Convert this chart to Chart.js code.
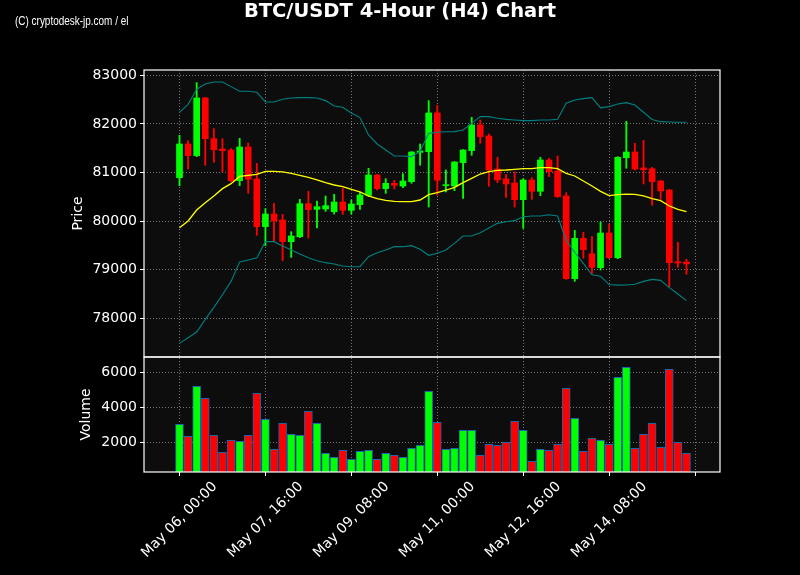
<!DOCTYPE html>
<html><head><meta charset="utf-8">
<script src="https://cdn.jsdelivr.net/npm/chart.js@4/dist/chart.umd.min.js"></script>
<style>html,body{margin:0;padding:0;background:#000;overflow:hidden;}</style>
</head><body>
<canvas id="c" width="800" height="575" style="display:block;width:800px;height:575px"></canvas>
<script>
// ---- data (4-hour candles, index 0 = May 06 00:00) ----
const tickIndex = [0, 10, 20, 30, 40, 50, 60];
const tickLabels = ['May 06, 00:00', 'May 07, 16:00', 'May 09, 08:00', 'May 11, 00:00', 'May 12, 16:00', 'May 14, 08:00', ''];
const priceTicks = [78000, 79000, 80000, 81000, 82000, 83000];
const volumeTicks = [2000, 4000, 6000];

const opens  = [80894,81587,81347,82534,81697,81484,81463,80832,81525,80867,79886,80146,80023,79577,79680,80359,80242,80249,80194,80393,80222,80338,80530,80949,80668,80777,80722,80812,81415,81429,82225,80730,80722,81203,81450,81978,81751,81072,80867,80784,80441,80846,80613,81258,81031,80517,78815,79645,79330,79042,79755,79247,81306,81422,81093,81079,80825,80640,79165,79158];
const highs  = [81765,81655,82849,82547,81902,81697,81491,81703,81607,81189,80256,80366,80139,79782,80448,80613,80414,80517,80551,80675,80434,80585,81086,80960,80873,80839,80976,81430,81587,82479,82383,81052,81225,81470,82136,82081,81793,81312,80956,81011,80873,80894,81312,81292,81340,80585,79810,79772,79680,79982,79940,81326,82053,81601,81662,81107,80840,80650,79563,79213];
const lows   = [80729,81072,81326,81148,81210,81011,80812,80729,80572,79707,79495,79577,79186,79254,79659,79652,79858,80201,80146,80139,80146,80242,80503,80640,80571,80660,80688,80777,81148,80290,80537,80600,80626,80469,81354,81601,80716,80791,80489,80290,79851,80448,80523,80915,80490,78801,78760,79234,78925,78993,79227,79227,81086,81052,80764,80325,80450,78650,79049,78907];
const closes = [81587,81347,82534,81697,81470,81450,80832,81525,80860,79886,80146,80002,79577,79694,80359,80235,80297,80318,80393,80222,80352,80537,80949,80668,80777,80736,80825,81422,81443,82225,80839,80750,81216,81463,81978,81738,81052,80846,80764,80441,80846,80613,81258,81017,80503,78815,79645,79412,79049,79755,79247,81312,81422,81072,81058,80812,80620,79145,79138,79119];
const volumes = [3030,2340,5200,4510,2400,1430,2110,2060,2400,4800,3310,1600,3090,2460,2400,3770,3090,1370,1140,1540,1030,1490,1540,1030,1370,1260,1140,1660,1830,4910,3140,1600,1660,2690,2690,1260,1890,1830,2000,3200,2690,910,1600,1540,1890,5090,3370,1490,2230,2110,1890,5710,6290,1660,2460,3090,1710,6170,2000,1370];
const sma20 = [79865,80002,80229,80380,80517,80668,80770,80920,80942,80963,81024,81024,81011,80983,80942,80901,80846,80791,80743,80709,80654,80600,80517,80462,80428,80407,80400,80400,80434,80544,80585,80635,80695,80791,80880,80969,81017,81045,81052,81065,81079,81079,81100,81100,81079,80983,80928,80825,80722,80613,80524,80544,80555,80551,80517,80462,80421,80311,80242,80194];
const upperBand = [82239,82403,82712,82822,82863,82863,82767,82671,82671,82650,82451,82451,82506,82534,82540,82540,82534,82479,82369,82341,82225,82130,81772,81587,81463,81340,81340,81326,81436,81806,81827,81838,81841,81875,82012,82150,82150,82115,82094,82081,82067,82067,82081,82081,82094,82424,82492,82520,82540,82330,82355,82410,82437,82389,82240,82090,82046,82040,82033,82033];
const lowerBand = [77485,77601,77718,77979,78225,78486,78760,79158,79199,79247,79577,79577,79488,79405,79323,79247,79186,79145,79117,79076,79062,79062,79268,79350,79405,79474,79474,79495,79419,79296,79337,79405,79542,79693,79693,79762,79858,79954,79988,80009,80091,80105,80105,80132,80105,79600,79360,79131,78895,78865,78695,78682,78685,78700,78760,78800,78780,78630,78500,78363];

// ---- styling ----
const GREEN = '#00ff00', RED = '#ff0000';
const idx = opens.map((_, i) => i);
const candleColor = ctx => (closes[ctx.dataIndex] >= opens[ctx.dataIndex] ? GREEN : RED);
const FONT = 'DejaVu Sans';
const gridCommon = {
  color: 'rgba(170,170,170,0.85)', lineWidth: 0.8,
  drawTicks: true, tickLength: 4, tickColor: '#ffffff', tickWidth: 1, tickBorderDash: [], offset: false
};

const decor = {
  id: 'decor',
  beforeDraw(chart) {
    const {ctx, chartArea: a} = chart;
    ctx.save();
    ctx.fillStyle = '#000';
    ctx.fillRect(0, 0, chart.width, chart.height);
    ctx.fillStyle = '#0d0d0d';
    ctx.fillRect(a.left, a.top, a.right - a.left, a.bottom - a.top);
    ctx.restore();
  },
  afterDraw(chart) {
    const {ctx, chartArea: a} = chart;
    const y = chart.scales.y, yv = chart.scales.yv, x = chart.scales.x;
    ctx.save();
    // frames
    ctx.strokeStyle = '#ffffff';
    ctx.lineWidth = 1.2;
    ctx.strokeRect(a.left, y.top, a.right - a.left, y.bottom - y.top);
    ctx.strokeRect(a.left, yv.top, a.right - a.left, yv.bottom - yv.top);
    // title
    ctx.fillStyle = '#ffffff';
    ctx.textAlign = 'center';
    ctx.textBaseline = 'alphabetic';
    ctx.font = 'bold 19.5px "' + FONT + '"';
    ctx.fillText('BTC/USDT 4-Hour (H4) Chart', 400, 17);
    // watermark (condensed)
    ctx.save();
    ctx.textAlign = 'left';
    ctx.font = '12px "Liberation Sans", sans-serif';
    ctx.translate(15, 25);
    ctx.scale(0.83, 1);
    ctx.fillText('(C) cryptodesk-jp.com / el', 0, 0);
    ctx.restore();
    // axis titles
    ctx.font = '14px "' + FONT + '"';
    ctx.textAlign = 'center';
    ctx.textBaseline = 'middle';
    ctx.save();
    ctx.translate(78, (y.top + y.bottom) / 2);
    ctx.rotate(-Math.PI / 2);
    ctx.fillText('Price', 0, 0);
    ctx.restore();
    ctx.save();
    ctx.translate(86, (yv.top + yv.bottom) / 2);
    ctx.rotate(-Math.PI / 2);
    ctx.fillText('Volume', 0, 0);
    ctx.restore();
    // x tick labels, rotated 45 deg, centred on tick
    tickIndex.forEach((v, k) => {
      const lbl = tickLabels[k];
      if (!lbl) return;
      const px = x.getPixelForValue(v);
      ctx.save();
      ctx.translate(px, a.bottom + 48);
      ctx.rotate(-Math.PI / 4);
      ctx.fillText(lbl, 0, 0);
      ctx.restore();
    });
    ctx.restore();
  }
};

new Chart(document.getElementById('c'), {
  type: 'bar',
  data: {
    datasets: [
      {type: 'line', label: 'SMA 20', data: idx.map(i => ({x: i, y: sma20[i]})), borderColor: '#ffff00', borderWidth: 1.3, pointRadius: 0, yAxisID: 'y', order: 0},
      {type: 'line', label: 'Upper Band', data: idx.map(i => ({x: i, y: upperBand[i]})), borderColor: '#008080', borderWidth: 1.1, pointRadius: 0, yAxisID: 'y', order: 0},
      {type: 'line', label: 'Lower Band', data: idx.map(i => ({x: i, y: lowerBand[i]})), borderColor: '#008080', borderWidth: 1.1, pointRadius: 0, yAxisID: 'y', order: 0},
      {label: 'Body', data: idx.map(i => ({x: i, y: [opens[i], closes[i]]})), backgroundColor: candleColor, barThickness: 6, minBarLength: 1, grouped: false, yAxisID: 'y', order: 1},
      {label: 'Wick', data: idx.map(i => ({x: i, y: [lows[i], highs[i]]})), backgroundColor: candleColor, barThickness: 1.2, grouped: false, yAxisID: 'y', order: 2},
      {label: 'Volume', data: idx.map(i => ({x: i, y: volumes[i]})), backgroundColor: candleColor, borderColor: '#1f64a8', borderWidth: 1, borderSkipped: false, barThickness: 8, grouped: false, yAxisID: 'yv', clip: 0, order: 3}
    ]
  },
  options: {
    responsive: false,
    animation: false,
    devicePixelRatio: 1,
    layout: {padding: {top: 70, right: 80, bottom: 0, left: 0}},
    plugins: {legend: {display: false}, tooltip: {enabled: false}, title: {display: false}},
    scales: {
      x: {
        type: 'linear', min: -4.13, max: 62.9, offset: false,
        afterBuildTicks: ax => { ax.ticks = tickIndex.map(v => ({value: v})); },
        afterFit: ax => { ax.height = 103; },
        ticks: {display: false},
        grid: gridCommon,
        border: {display: false, dash: [1, 2]}
      },
      y: {
        type: 'linear', position: 'left', stack: 'panes', stackWeight: 287, weight: 1,
        min: 77204, max: 83109,
        afterBuildTicks: ax => { ax.ticks = priceTicks.map(v => ({value: v})); },
        afterFit: ax => { ax.width = 144; },
        ticks: {color: '#ffffff', font: {family: FONT, size: 14}, padding: 3, callback: v => String(v)},
        grid: gridCommon,
        border: {display: false, dash: [1, 2]}
      },
      yv: {
        type: 'linear', position: 'left', stack: 'panes', stackWeight: 115, weight: 0,
        min: 303, max: 6874,
        afterBuildTicks: ax => { ax.ticks = volumeTicks.map(v => ({value: v})); },
        afterFit: ax => { ax.width = 144; },
        ticks: {color: '#ffffff', font: {family: FONT, size: 14}, padding: 3, callback: v => String(v)},
        grid: gridCommon,
        border: {display: false, dash: [1, 2]}
      }
    }
  },
  plugins: [decor]
});
</script>
</body></html>
